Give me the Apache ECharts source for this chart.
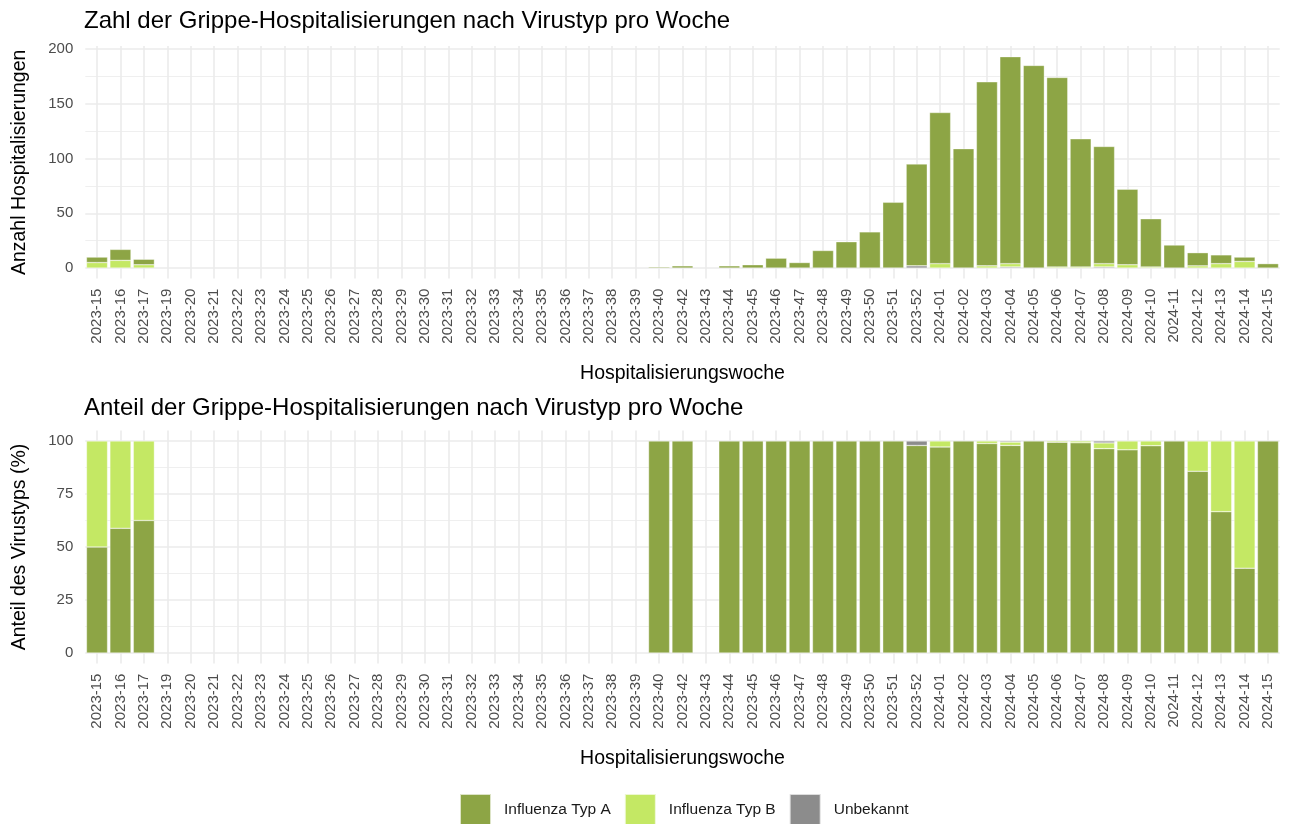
<!DOCTYPE html>
<html>
<head>
<meta charset="utf-8">
<script src="https://cdn.jsdelivr.net/npm/echarts@6/dist/echarts.min.js"></script>
<style>
html,body{margin:0;padding:0;background:#fff;}
#c{width:1291px;height:824px;}
</style>
</head>
<body>
<div id="c"></div>
<script>
const weeks = ['2023-15','2023-16','2023-17','2023-19','2023-20','2023-21','2023-22','2023-23','2023-24','2023-25','2023-26','2023-27','2023-28','2023-29','2023-30','2023-31','2023-32','2023-33','2023-34','2023-35','2023-36','2023-37','2023-38','2023-39','2023-40','2023-42','2023-43','2023-44','2023-45','2023-46','2023-47','2023-48','2023-49','2023-50','2023-51','2023-52','2024-01','2024-02','2024-03','2024-04','2024-05','2024-06','2024-07','2024-08','2024-09','2024-10','2024-11','2024-12','2024-13','2024-14','2024-15'];
const typA = [5,10,5, 0,0,0,0,0,0,0,0,0,0,0,0,0,0,0,0,0,0,0,0,0, 1,2,0,2,3,9,5,16,24,33,60,93, 138,109,168,189,185,173,117,107,69,44,21,12,8,4,4];
const typB = [5,7,3, 0,0,0,0,0,0,0,0,0,0,0,0,0,0,0,0,0,0,0,0,0, 0,0,0,0,0,0,0,0,0,0,0,0, 4,0,2,3,0,1,1,3,3,1,0,2,4,6,0];
const unbekannt = [0,0,0, 0,0,0,0,0,0,0,0,0,0,0,0,0,0,0,0,0,0,0,0,0, 0,0,0,0,0,0,0,0,0,0,0,2, 0,0,0,1,0,0,0,1,0,0,0,0,0,0,0];
const seriesNames = ['Influenza Typ A','Influenza Typ B','Unbekannt'];
const yTicksTop = [0,50,100,150,200];
const yTicksBottom = [0,25,50,75,100];
const titles = ['Zahl der Grippe-Hospitalisierungen nach Virustyp pro Woche','Anteil der Grippe-Hospitalisierungen nach Virustyp pro Woche'];
const yNames = ['Anzahl Hospitalisierungen','Anteil des Virustyps (%)'];
const xName = 'Hospitalisierungswoche';

const colors = {'Influenza Typ A':'#8da545','Influenza Typ B':'#c4e864','Unbekannt':'#8c8c8c'};
const FONT = 'Liberation Sans, Arial, Helvetica, sans-serif';

const totals = weeks.map((w,i)=>typA[i]+typB[i]+unbekannt[i]);
const pct = arr => arr.map((v,i)=> totals[i] ? v/totals[i]*100 : 0);
const nz = arr => arr.map(v => v ? v : '-');
const maxT = Math.max(...totals);

const GRID = '#ebebeb';
function minorsOf(t){ const m=[]; for(let i=0;i<t.length-1;i++) m.push((t[i]+t[i+1])/2); return m; }
function gridSeries(idx, ticks){
  const data = [];
  minorsOf(ticks).forEach(v=>data.push({yAxis:v, lineStyle:{color:GRID,width:0.8,type:'solid'}}));
  ticks.forEach(v=>data.push({yAxis:v, lineStyle:{color:GRID,width:1.6,type:'solid'}}));
  weeks.forEach((w,i)=>data.push({xAxis:i, lineStyle:{color:GRID,width:1.6,type:'solid'}}));
  return {type:'line', xAxisIndex:idx, yAxisIndex:idx, data:[], silent:true, z:0, zlevel:0,
    markLine:{silent:true, symbol:['none','none'], animation:false, z:0, label:{show:false}, emphasis:{disabled:true}, data:data}};
}
function barSeries(name, idx, values){
  return {type:'bar', name:name, xAxisIndex:idx, yAxisIndex:idx, stack:'s'+idx, barCategoryGap:'10%',
    z:3, data:nz(values), itemStyle:{color:colors[name], borderColor:'rgba(255,255,255,0.7)', borderWidth:0.5},
    emphasis:{disabled:true}};
}
const gridPos = [{left:85.3, right:11.3, top:46.1, height:232.5},{left:85.3, right:11.3, top:430.4, height:233.2}];
function xAxisOf(idx){
  return {type:'category', gridIndex:idx, data:weeks, boundaryGap:true,
    axisLine:{show:false}, axisTick:{show:false}, splitLine:{show:false},
    axisLabel:{interval:0, rotate:90, fontSize:15, color:'#4d4d4d', margin:10, fontFamily:FONT},
    name:xName, nameLocation:'middle', nameGap:85, nameTextStyle:{fontSize:19.5, color:'#000', fontFamily:FONT}};
}
function yAxisOf(idx, ticks, maxV){
  return {type:'value', gridIndex:idx, min:-maxV*0.05, max:maxV*1.05,
    axisLine:{show:false}, axisTick:{show:false}, splitLine:{show:false},
    axisLabel:{customValues:ticks, fontSize:15, color:'#4d4d4d', margin:12, fontFamily:FONT},
    name:yNames[idx], nameLocation:'middle', nameGap:56, nameTextStyle:{fontSize:19.5, color:'#000', fontFamily:FONT}};
}
const option = {
  animation:false,
  backgroundColor:'#fff',
  textStyle:{fontFamily:FONT},
  title:[
    {text:titles[0], left:84, top:8.9, padding:0, textStyle:{fontSize:24, fontWeight:'normal', color:'#000', fontFamily:FONT}},
    {text:titles[1], left:84, top:395.9, padding:0, textStyle:{fontSize:24, fontWeight:'normal', color:'#000', fontFamily:FONT}}
  ],
  legend:{data:seriesNames, left:459, top:793, padding:0, itemWidth:31, itemHeight:31, itemGap:13, icon:'rect',
    textStyle:{fontSize:15.5, color:'#1a1a1a', padding:[0,0,0,8], fontFamily:FONT}},
  grid:gridPos,
  xAxis:[xAxisOf(0), xAxisOf(1)],
  yAxis:[yAxisOf(0, yTicksTop, maxT), yAxisOf(1, yTicksBottom, 100)],
  series:[
    gridSeries(0, yTicksTop),
    gridSeries(1, yTicksBottom),
    barSeries('Unbekannt', 0, unbekannt),
    barSeries('Influenza Typ B', 0, typB),
    barSeries('Influenza Typ A', 0, typA),
    barSeries('Influenza Typ A', 1, pct(typA)),
    barSeries('Influenza Typ B', 1, pct(typB)),
    barSeries('Unbekannt', 1, pct(unbekannt))
  ]
};
const chart = echarts.init(document.getElementById('c'), null, {renderer:'canvas'});
chart.setOption(option);
</script>
</body>
</html>
